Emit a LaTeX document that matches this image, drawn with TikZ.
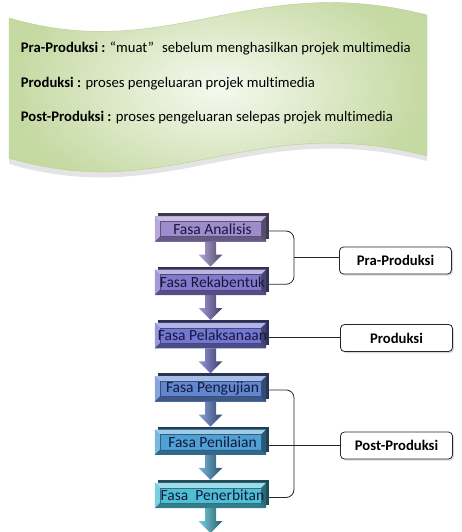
\documentclass[tikz,border=0pt]{standalone}
\usepackage{fontspec}
\setmainfont{Carlito}[Ligatures=NoCommon]
\usetikzlibrary{shadows,calc}
\definecolor{c1}{HTML}{9D8BCB}
\definecolor{c2}{HTML}{8579CC}
\definecolor{c3}{HTML}{7376D2}
\definecolor{c4}{HTML}{6186D0}
\definecolor{c5}{HTML}{4FA0D4}
\definecolor{c6}{HTML}{4FBFD6}
\definecolor{navytext}{HTML}{14183A}
\definecolor{bannerin}{HTML}{F5F9EF}
\definecolor{bannerout}{HTML}{C5D9A2}
\definecolor{banneredge}{HTML}{B8CD93}
\begin{document}
\begin{tikzpicture}[x=1pt,y=-1pt,
  fasabox/.style={rectangle, minimum width=111pt, minimum height=25pt, inner sep=0pt},
  fasatext/.style={font=\fontsize{15.5}{18}\selectfont, text=navytext, inner sep=0pt},
  tagbox/.style={draw=black!85, rounded corners=4pt, fill=white, minimum width=112pt,
    minimum height=27pt, inner sep=0pt, font=\fontsize{14.67}{17}\selectfont\bfseries,
    line width=0.8pt, drop shadow={shadow xshift=1.5pt, shadow yshift=-1.5pt, opacity=.3}},
  conn/.style={draw=black!85, line width=0.8pt},
  bannertext/.style={anchor=base west, inner sep=0pt, font=\fontsize{14.67}{17}\selectfont}]
\useasboundingbox (0,0) rectangle (461,532);

% banner
\fill[black!35, opacity=.3]
  (9,22) .. controls (170,69) and (250,-26) .. (427,19) -- (427,161)
  .. controls (250,116) and (170,211) .. (9,164) -- cycle;
\shade[inner color=bannerin, outer color=bannerout, draw=banneredge, line width=0.4pt]
  (9,18) .. controls (170,65) and (250,-30) .. (427,15) -- (427,156)
  .. controls (250,110) and (170,206) .. (9,158) -- cycle;

\node[bannertext] (t1) at (20.7,52.7) {\textbf{Pra-Produksi :} “muat”\hspace{0.55em}sebelum menghasilkan projek multimedia};
\node[bannertext] (t2) at (20.7,87.2) {\textbf{Produksi :} proses pengeluaran projek multimedia};
\node[bannertext] (t3) at (20.7,121.7) {\textbf{Post-Produksi :} proses pengeluaran selepas projek multimedia};

% flow boxes
\foreach \n/\yy/\c/\t in {fa/229/c1/Fasa Analisis, rb/282.3/c2/Fasa Rekabentuk,
  pl/335.6/c3/Fasa Pelaksanaan, pg/388.9/c4/Fasa Pengujian,
  pn/442.2/c5/Fasa Penilaian, pb/495.5/c6/Fasa~ Penerbitan}{
  \node[fasabox] (\n) at (210.5,\yy) {};
  % arrow
  \shade[left color=\c!75!white, right color=\c!50!black]
    ([shift={(-5.5pt,0pt)}]\n.south) -- ([shift={(-5.5pt,-13pt)}]\n.south)
    -- ([shift={(-12pt,-13pt)}]\n.south) -- ([shift={(0pt,-25pt)}]\n.south)
    -- ([shift={(12pt,-13pt)}]\n.south) -- ([shift={(5.5pt,-13pt)}]\n.south)
    -- ([shift={(5.5pt,0pt)}]\n.south) -- cycle;
  \draw[white, opacity=.8, line width=1pt] ([shift={(3pt,-23pt)}]\n.south) -- ([shift={(13pt,-13pt)}]\n.south);
  % back frame
  \fill[\c!40!black] ([shift={(3pt,3pt)}]\n.south west) rectangle ([shift={(3pt,3pt)}]\n.north east);
  % face
  \fill[\c] (\n.south west) rectangle (\n.north east);
  % bevels
  \fill[\c!55!white] (\n.north west) -- (\n.north east) -- ([shift={(-5pt,-5pt)}]\n.north east)
    -- ([shift={(5pt,-5pt)}]\n.north west) -- cycle;
  \fill[\c!75!white] (\n.north west) -- ([shift={(5pt,-5pt)}]\n.north west)
    -- ([shift={(5pt,5pt)}]\n.south west) -- (\n.south west) -- cycle;
  \fill[\c!65!black] (\n.south west) -- ([shift={(5pt,5pt)}]\n.south west)
    -- ([shift={(-5pt,5pt)}]\n.south east) -- (\n.south east) -- cycle;
  \fill[\c!55!black] (\n.north east) -- (\n.south east) -- ([shift={(-5pt,5pt)}]\n.south east)
    -- ([shift={(-5pt,-5pt)}]\n.north east) -- cycle;
  \draw[\c!60!black, line width=0.5pt] ([shift={(5pt,-5pt)}]\n.north west) rectangle ([shift={(-5pt,5pt)}]\n.south east);
  \node[fasatext] (\n-t) at ([xshift=2pt]\n.center) {\t};
}

% tag boxes
\node[tagbox] (pra) at (395.5,260.5) {Pra-Produksi};
\node[tagbox] (pro) at (396.5,338) {Produksi};
\node[tagbox] (post) at (396.5,445.5) {Post-Produksi};

% connectors
\coordinate (bx) at (294,0);
\coordinate (faR) at ([xshift=3pt,yshift=-2pt]fa.east);
\coordinate (rbR) at ([xshift=3pt,yshift=-2pt]rb.east);
\coordinate (plR) at ([xshift=3pt,yshift=-2pt]pl.east);
\coordinate (pgR) at ([xshift=3pt,yshift=-1pt]pg.east);
\coordinate (pnR) at ([xshift=3pt,yshift=-3pt]pn.east);
\coordinate (pbR) at ([xshift=3pt,yshift=-2pt]pb.east);

\draw[conn, rounded corners=8pt] (faR) -- (faR -| bx) -- (rbR -| bx) -- (rbR);
\coordinate (m1) at ($(faR -| bx)!.5!(rbR -| bx)$);
\draw[conn] (m1) -- (m1 -| pra.west);

\draw[conn] (plR) -- (plR -| pro.west);

\draw[conn, rounded corners=8pt] (pgR) -- (pgR -| bx) -- (pbR -| bx) -- (pbR);
\draw[conn] (pnR) -- (pnR -| post.west);
\end{tikzpicture}
\end{document}
